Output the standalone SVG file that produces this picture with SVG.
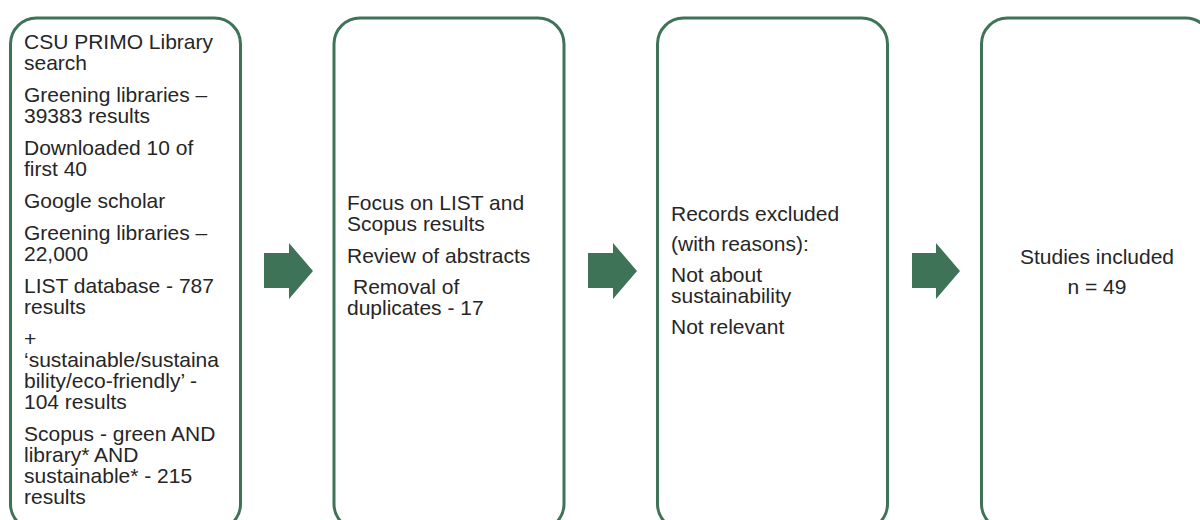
<svg xmlns="http://www.w3.org/2000/svg" width="1200" height="520" viewBox="0 0 1200 520">
<style>
.box{fill:#ffffff;stroke:#3e7357;stroke-width:3}
.arr{fill:#3e7357}
text{font-family:"Liberation Sans",Arial,sans-serif;font-size:21px;fill:#262626}
.c{text-anchor:middle}
</style>
<rect width="1200" height="520" fill="#ffffff"/>
<g id="connectors">
<polygon class="arr" points="264,253 289,253 289,243 313,271 289,299 289,288 264,288"/>
<polygon class="arr" points="588,253 613,253 613,243 637,271 613,299 613,288 588,288"/>
<polygon class="arr" points="912,253 936,253 936,243 960,271 936,299 936,288 912,288"/>
</g>
<g id="node1">
<rect class="box" x="10.5" y="18" width="230" height="512" rx="26"/>
<text x="24" y="49">CSU PRIMO Library</text>
<text x="24" y="70">search</text>
<text x="24" y="102">Greening libraries –</text>
<text x="24" y="123">39383 results</text>
<text x="24" y="155">Downloaded 10 of</text>
<text x="24" y="176">first 40</text>
<text x="24" y="208">Google scholar</text>
<text x="24" y="240">Greening libraries –</text>
<text x="24" y="261">22,000</text>
<text x="24" y="293">LIST database - 787</text>
<text x="24" y="314">results</text>
<text x="24" y="346">+</text>
<text x="24" y="367">‘sustainable/sustaina</text>
<text x="24" y="388">bility/eco-friendly’ -</text>
<text x="24" y="409">104 results</text>
<text x="24" y="441">Scopus - green AND</text>
<text x="24" y="462">library* AND</text>
<text x="24" y="483">sustainable* - 215</text>
<text x="24" y="504">results</text>
</g>
<g id="node2">
<rect class="box" x="334" y="18" width="230" height="512" rx="26"/>
<text x="347" y="210">Focus on LIST and</text>
<text x="347" y="231">Scopus results</text>
<text x="347" y="263">Review of abstracts</text>
<text x="353" y="294">Removal of</text>
<text x="347" y="315">duplicates - 17</text>
</g>
<g id="node3">
<rect class="box" x="657.5" y="18" width="230" height="512" rx="26"/>
<text x="671" y="221">Records excluded</text>
<text x="671" y="251">(with reasons):</text>
<text x="671" y="282">Not about</text>
<text x="671" y="303">sustainability</text>
<text x="671" y="334">Not relevant</text>
</g>
<g id="node4">
<rect class="box" x="981.5" y="18" width="230" height="512" rx="26"/>
<text class="c" x="1097" y="264">Studies included</text>
<text class="c" x="1097" y="294">n = 49</text>
</g>
</svg>
